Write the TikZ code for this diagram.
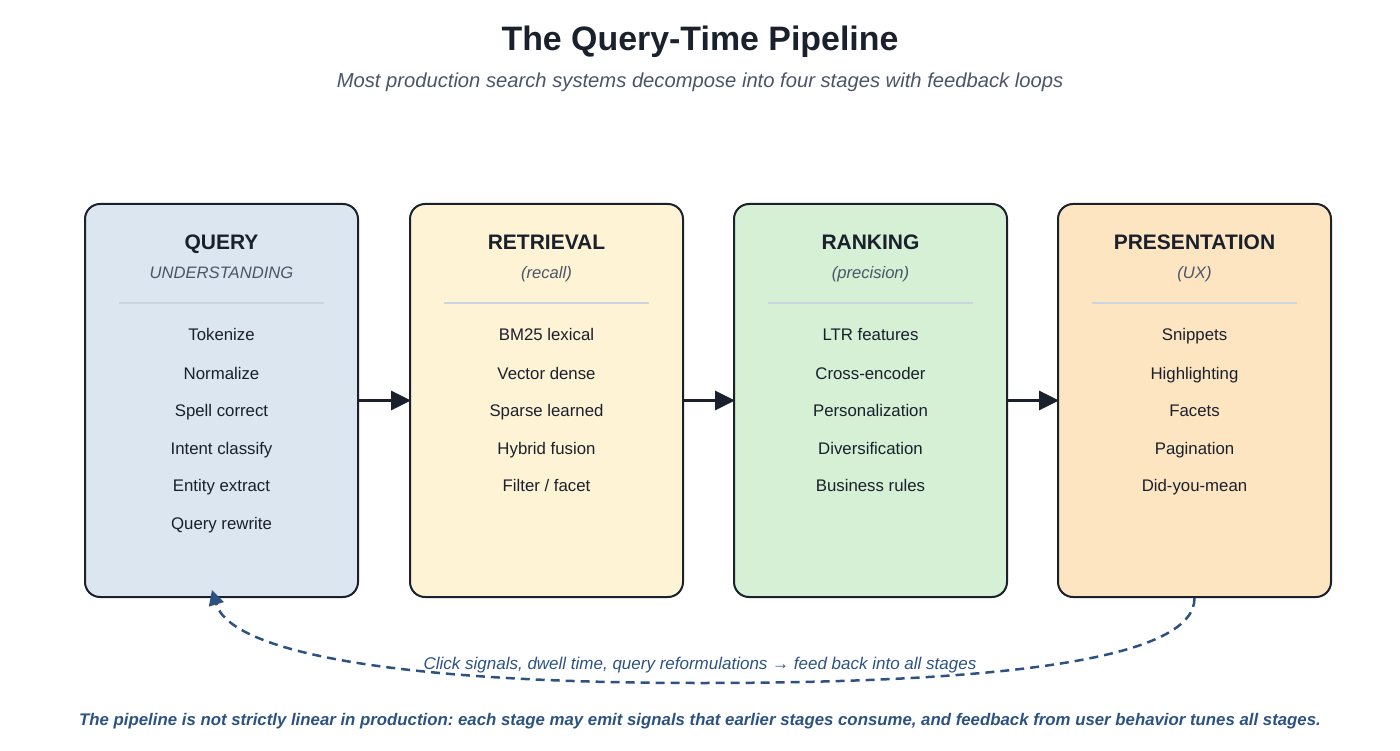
\documentclass[tikz,border=0pt]{standalone}
\usepackage{fontspec}
\setmainfont{Liberation Sans}
\usetikzlibrary{arrows.meta}
\frenchspacing
\definecolor{ink}{HTML}{1A202C}
\definecolor{sub}{HTML}{4A5568}
\definecolor{sepc}{HTML}{CBD5E0}
\definecolor{fb}{HTML}{2C5282}
\definecolor{fillA}{HTML}{DCE6F0}
\definecolor{fillB}{HTML}{FFF3D6}
\definecolor{fillC}{HTML}{D5F0D5}
\definecolor{fillD}{HTML}{FEE5C2}
\tikzset{
  stagebox/.style={draw=ink, line width=2pt, rounded corners=15pt, minimum width=273pt, minimum height=393pt, inner sep=0pt},
  head/.style={font=\fontsize{21}{24}\selectfont\bfseries, text=ink, anchor=base},
  subhead/.style={font=\fontsize{16.6}{20}\selectfont\itshape, text=sub, anchor=base},
  item/.style={font=\fontsize{16.8}{20}\selectfont, text=ink, anchor=base},
  sepline/.style={draw=sepc, line width=2pt},
  flow/.style={draw=ink, line width=3pt, -{Triangle[length=20pt,width=19pt]}},
  feedback/.style={draw=fb, line width=2.5pt, dash pattern=on 9pt off 6pt, -{Triangle[length=15pt,width=15pt]}},
}
\begin{document}
\begin{tikzpicture}[x=1pt,y=-1pt]
\useasboundingbox (0,0) rectangle (1400,751);
\node[font=\fontsize{33.9}{40}\selectfont\bfseries, text=ink, anchor=base] (title) at (700,51) {The Query-Time Pipeline};
\node[font=\fontsize{20.2}{23}\selectfont\itshape, text=sub, anchor=base] (subtitle) at (700,88) {Most production search systems decompose into four stages with feedback loops};

\node[stagebox, fill=fillA] (q) at (221.5,400.5) {};
\node[stagebox, fill=fillB] (r) at (546.5,400.5) {};
\node[stagebox, fill=fillC] (k) at (870.5,400.5) {};
\node[stagebox, fill=fillD] (p) at (1194.5,400.5) {};

% Query
\node[head] (qh) at (221.5,249.5) {QUERY};
\node[subhead] (qs) at (221.5,279) {UNDERSTANDING};
\draw[sepline] (119,303) -- (324,303);
\node[item] (q1) at (221.5,341) {Tokenize};
\node[item] (q2) at (221.5,379) {Normalize};
\node[item] (q3) at (221.5,416.5) {Spell correct};
\node[item] (q4) at (221.5,454) {Intent classify};
\node[item] (q5) at (221.5,491.5) {Entity extract};
\node[item] (q6) at (221.5,529) {Query rewrite};

% Retrieval
\node[head] (rh) at (546.5,249.5) {RETRIEVAL};
\node[subhead] (rs) at (546.5,279) {(recall)};
\draw[sepline] (444,303) -- (649,303);
\node[item] (r1) at (546.5,341) {BM25 lexical};
\node[item] (r2) at (546.5,379) {Vector dense};
\node[item] (r3) at (546.5,416.5) {Sparse learned};
\node[item] (r4) at (546.5,454) {Hybrid fusion};
\node[item] (r5) at (546.5,491.5) {Filter / facet};

% Ranking
\node[head] (kh) at (870.5,249.5) {RANKING};
\node[subhead] (ks) at (870.5,279) {(precision)};
\draw[sepline] (768,303) -- (973,303);
\node[item] (k1) at (870.5,341) {LTR features};
\node[item] (k2) at (870.5,379) {Cross-encoder};
\node[item] (k3) at (870.5,416.5) {Personalization};
\node[item] (k4) at (870.5,454) {Diversification};
\node[item] (k5) at (870.5,491.5) {Business rules};

% Presentation
\node[head] (ph) at (1194.5,249.5) {PRESENTATION};
\node[subhead] (ps) at (1194.5,279) {(UX)};
\draw[sepline] (1092,303) -- (1297,303);
\node[item] (p1) at (1194.5,341) {Snippets};
\node[item] (p2) at (1194.5,379) {Highlighting};
\node[item] (p3) at (1194.5,416.5) {Facets};
\node[item] (p4) at (1194.5,454) {Pagination};
\node[item] (p5) at (1194.5,491.5) {Did-you-mean};

% flow arrows
\draw[flow] (q.east) -- ([xshift=2pt]r.west);
\draw[flow] (r.east) -- ([xshift=2pt]k.west);
\draw[flow] (k.east) -- ([xshift=2pt]p.west);

% feedback
\coordinate (fbmid) at (700,683);
\coordinate (fbend) at (212,590);
\draw[feedback] (p.south) .. controls (1195,654.7) and (1030,683) .. (fbmid)
                          .. controls (393.3,683) and (230.7,652) .. (fbend);
\node[font=\fontsize{17}{20}\selectfont\itshape, text=fb, anchor=base] (fbl) at (700,669) {Click signals, dwell time, query reformulations → feed back into all stages};

\node[font=\fontsize{16.8}{20}\selectfont\bfseries\itshape, text=fb, anchor=base] (note) at (700,725) {The pipeline is not strictly linear in production: each stage may emit signals that earlier stages consume, and feedback from user behavior tunes all stages.};
\end{tikzpicture}
\end{document}
